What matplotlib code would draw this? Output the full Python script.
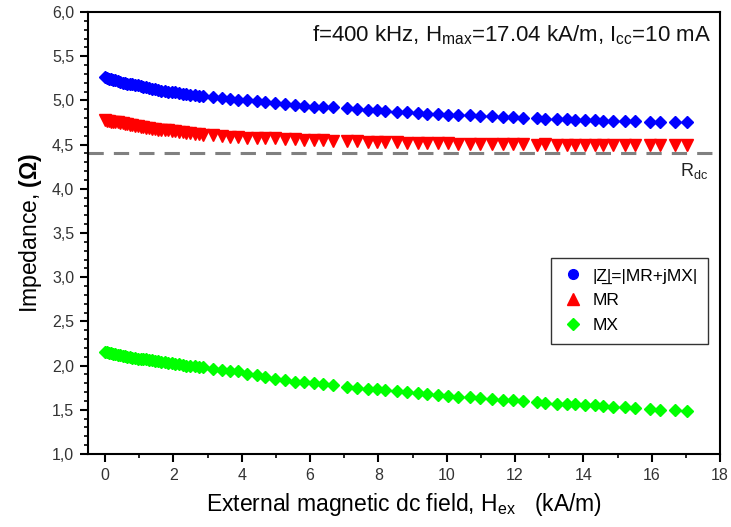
import matplotlib
matplotlib.use('Agg')
import matplotlib.pyplot as plt
from matplotlib.lines import Line2D
from matplotlib.ticker import MultipleLocator, FuncFormatter

plt.rcParams['font.family'] = ['Liberation Sans', 'DejaVu Sans']
plt.rcParams['mathtext.fontset'] = 'custom'
plt.rcParams['mathtext.rm'] = 'Liberation Sans'
plt.rcParams['mathtext.it'] = 'Liberation Sans:italic'
plt.rcParams['mathtext.bf'] = 'Liberation Sans:bold'

# Data
h_ex = [0.00, 0.06, 0.12, 0.18, 0.24, 0.30, 0.37, 0.44, 0.51, 0.58,
        0.65, 0.72, 0.80, 0.88, 0.96, 1.04, 1.12, 1.20, 1.29, 1.38,
        1.47, 1.56, 1.65, 1.75, 1.85, 1.95, 2.05, 2.16, 2.27, 2.38,
        2.50, 2.62, 2.74, 2.87, 3.16, 3.42, 3.66, 3.89, 4.16, 4.45,
        4.68, 4.98, 5.27, 5.56, 5.82, 6.12, 6.38, 6.67, 7.08, 7.37,
        7.70, 7.96, 8.19, 8.55, 8.84, 9.16, 9.42, 9.75, 10.04, 10.33,
        10.68, 10.97, 11.33, 11.65, 11.94, 12.23, 12.64, 12.88, 13.23, 13.52,
        13.75, 14.05, 14.34, 14.57, 14.87, 15.22, 15.51, 15.95, 16.24, 16.68,
        17.04]

z_abs = [5.26, 5.25, 5.24, 5.24, 5.23, 5.23, 5.22, 5.21, 5.20, 5.20,
         5.19, 5.19, 5.18, 5.17, 5.17, 5.16, 5.15, 5.15, 5.14, 5.13,
         5.13, 5.12, 5.11, 5.11, 5.10, 5.09, 5.09, 5.08, 5.07, 5.07,
         5.06, 5.06, 5.05, 5.05, 5.04, 5.03, 5.02, 5.01, 5.00, 4.99,
         4.98, 4.97, 4.96, 4.95, 4.94, 4.93, 4.93, 4.92, 4.91, 4.90,
         4.89, 4.89, 4.88, 4.87, 4.87, 4.86, 4.85, 4.85, 4.84, 4.84,
         4.83, 4.82, 4.82, 4.81, 4.81, 4.80, 4.80, 4.79, 4.79, 4.79,
         4.78, 4.78, 4.78, 4.77, 4.77, 4.77, 4.77, 4.76, 4.76, 4.76,
         4.76]

mr = [4.78, 4.77, 4.77, 4.76, 4.76, 4.75, 4.75, 4.74, 4.74, 4.73,
      4.73, 4.72, 4.72, 4.71, 4.71, 4.70, 4.70, 4.69, 4.69, 4.68,
      4.68, 4.67, 4.67, 4.66, 4.66, 4.65, 4.65, 4.64, 4.64, 4.63,
      4.63, 4.62, 4.62, 4.61, 4.61, 4.60, 4.59, 4.59, 4.58, 4.58,
      4.57, 4.57, 4.56, 4.56, 4.55, 4.55, 4.55, 4.54, 4.54, 4.54,
      4.53, 4.53, 4.53, 4.53, 4.52, 4.52, 4.52, 4.52, 4.52, 4.51,
      4.51, 4.51, 4.51, 4.51, 4.51, 4.51, 4.50, 4.51, 4.50, 4.50,
      4.50, 4.50, 4.50, 4.50, 4.50, 4.50, 4.50, 4.50, 4.50, 4.50,
      4.50]

mx = [2.15, 2.15, 2.14, 2.14, 2.13, 2.13, 2.12, 2.12, 2.11, 2.11,
      2.10, 2.10, 2.09, 2.09, 2.08, 2.08, 2.07, 2.07, 2.06, 2.06,
      2.05, 2.05, 2.04, 2.04, 2.03, 2.03, 2.02, 2.02, 2.01, 2.00,
      2.00, 1.99, 1.98, 1.98, 1.96, 1.95, 1.94, 1.94, 1.91, 1.89,
      1.87, 1.85, 1.84, 1.82, 1.81, 1.80, 1.79, 1.78, 1.76, 1.75,
      1.74, 1.73, 1.72, 1.71, 1.70, 1.69, 1.68, 1.67, 1.66, 1.65,
      1.64, 1.63, 1.62, 1.61, 1.61, 1.60, 1.59, 1.58, 1.57, 1.57,
      1.56, 1.55, 1.55, 1.54, 1.53, 1.53, 1.52, 1.51, 1.50, 1.50,
      1.49]

r_dc = 4.4
labels = ['|Z\u0332|=|MR+jMX|', 'MR', 'MX']
colors = ['#0000ff', '#ff0000', '#00ff00']

fig = plt.figure(figsize=(7.31, 5.27), dpi=100)
ax = fig.add_axes([88 / 731, 1 - 454 / 527, (720 - 88) / 731, (454 - 12) / 527])

ax.plot(h_ex, z_abs, linestyle='none', marker='D', markersize=6, color=colors[0])
ax.plot(h_ex, mr, linestyle='none', marker='v', markersize=8.5, color=colors[1])
ax.plot(h_ex, mx, linestyle='none', marker='D', markersize=6, color=colors[2])

ax.axhline(r_dc, color='#808080', linewidth=2.2, dashes=(5, 3.3))
ax.text(17.25, 4.2, r'R$_{\mathrm{dc}}$', fontsize=13, ha='center', va='center', color='#222222')
ax.text(17.75, 5.74, r'f=400 kHz, H$_{\mathrm{max}}$=17.04 kA/m, I$_{\mathrm{cc}}$=10 mA',
        fontsize=16, ha='right', va='center', color='#111111')

ax.set_xlim(-0.5, 18)
ax.set_ylim(1.0, 6.0)
ax.xaxis.set_major_locator(MultipleLocator(2))
ax.xaxis.set_minor_locator(MultipleLocator(1))
ax.yaxis.set_major_locator(MultipleLocator(0.5))
ax.yaxis.set_minor_locator(MultipleLocator(0.1))
ax.yaxis.set_major_formatter(FuncFormatter(lambda v, p: f'{v:.1f}'.replace('.', ',')))
ax.xaxis.set_major_formatter(FuncFormatter(lambda v, p: f'{v:.0f}'))

ax.tick_params(which='major', direction='out', length=6, width=1.5, labelsize=11.5,
               labelcolor='#333333', pad=4)
ax.tick_params(which='minor', direction='out', length=3, width=1.2)
for s in ax.spines.values():
    s.set_linewidth(1.5)

ax.set_xlabel(r'External magnetic dc field, H$_{\mathrm{ex}}$   (kA/m)', fontsize=16.5, labelpad=6)
ax.set_ylabel(r'Impedance, $\mathbf{(\Omega)}$', fontsize=16.5, labelpad=6)

handles = [
    Line2D([], [], linestyle='none', marker='o', markersize=7, color=colors[0]),
    Line2D([], [], linestyle='none', marker='^', markersize=8, color=colors[1]),
    Line2D([], [], linestyle='none', marker='D', markersize=6.5, color=colors[2]),
]
leg = ax.legend(handles, labels, loc='upper right', bbox_to_anchor=(708 / 731, 1 - 258 / 527),
                bbox_transform=fig.transFigure, borderaxespad=0, fancybox=False,
                edgecolor='#333333', framealpha=1, fontsize=12.5, handletextpad=0.4,
                labelspacing=0.55, borderpad=0.6, handlelength=1.4)
leg.get_frame().set_linewidth(1.0)

fig.savefig('out.png', dpi=100)
